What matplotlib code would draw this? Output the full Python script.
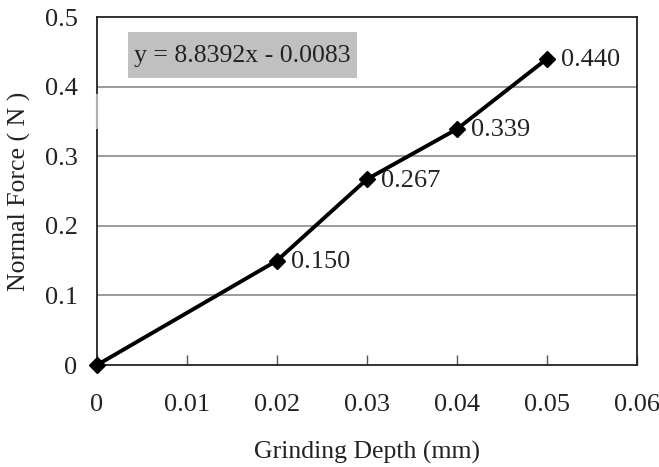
import matplotlib
matplotlib.use("Agg")
import matplotlib.pyplot as plt
from matplotlib.patches import Rectangle

depth = [0, 0.02, 0.03, 0.04, 0.05]
force = [0, 0.150, 0.267, 0.339, 0.440]
labels = ["", "0.150", "0.267", "0.339", "0.440"]
xticks = [0, 0.01, 0.02, 0.03, 0.04, 0.05, 0.06]
xticklabels = ["0", "0.01", "0.02", "0.03", "0.04", "0.05", "0.06"]
yticks = [0, 0.1, 0.2, 0.3, 0.4, 0.5]
yticklabels = ["0", "0.1", "0.2", "0.3", "0.4", "0.5"]
equation = "y = 8.8392x - 0.0083"

plt.rcParams['font.family'] = ['Liberation Serif', 'DejaVu Serif']
fig = plt.figure(figsize=(6.59, 4.67), dpi=100)
ax = fig.add_axes([97/659, 1-365/467, (637-97)/659, (365-17)/467])
ax.set_xlim(0, 0.06)
ax.set_ylim(0, 0.5)
for y in yticks[1:-1]:
    ax.axhline(y, color='#8a8a8a', lw=1.2, zorder=1)
ax.plot(depth, force, color='black', lw=2.8, marker='D', ms=8.5, zorder=3, clip_on=False)
for x, y, t in zip(depth, force, labels):
    if t:
        ax.annotate(t, (x, y), xytext=(10, -1), textcoords='offset points',
                    ha='left', va='center', fontsize=19, color='#222222')
ax.set_xticks(xticks)
ax.set_xticklabels(xticklabels, fontsize=19, color='#222222')
ax.set_yticks(yticks)
ax.set_yticklabels(yticklabels, fontsize=19, color='#222222')
ax.tick_params(axis='x', direction='in', length=7, width=1, pad=21, color='#555555')
ax.tick_params(axis='y', length=0, pad=14)
for s in ax.spines.values():
    s.set_color('#222222')
    s.set_linewidth(1.3)
# faint segment on left axis as in reference
ax.plot([0, 0], [0.3405, 0.388], color='#b0b0b0', lw=1.6, zorder=5, clip_on=False)
ax.set_xlabel("Grinding Depth (mm)", fontsize=18.5, color='#222222', labelpad=18)
ax.set_ylabel("Normal Force ( N )", fontsize=18.5, color='#222222', labelpad=10)
ax.add_patch(Rectangle((0.0574, 0.825), 0.424, 0.132, transform=ax.transAxes,
                       fc='#c0c0c0', ec='none', zorder=4))
ax.text(0.2694, 0.889, equation, transform=ax.transAxes, fontsize=18.5, color='#222222',
        va='center', ha='center', zorder=5)
fig.savefig("out.png", dpi=100)
